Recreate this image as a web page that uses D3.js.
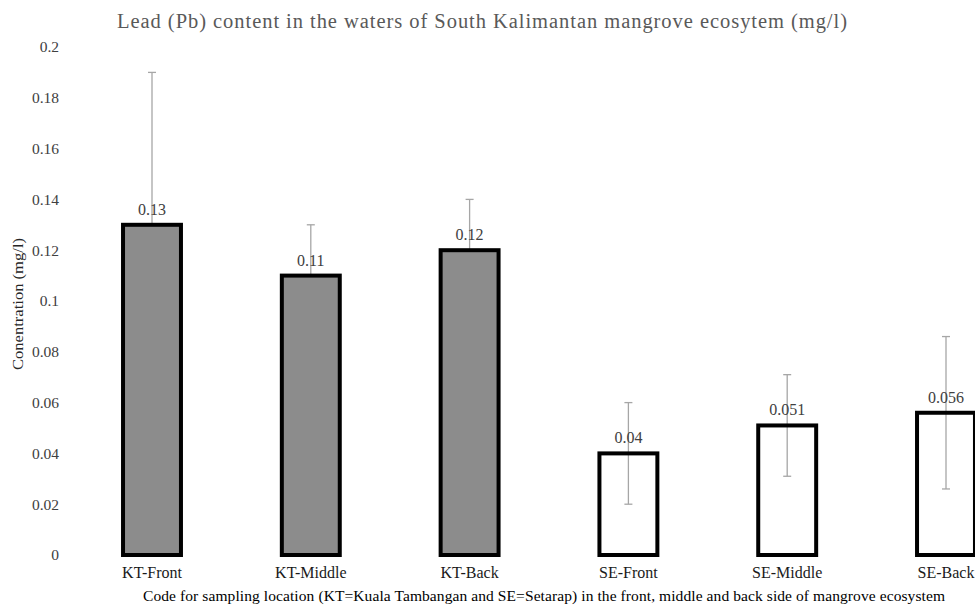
<!DOCTYPE html>
<html>
<head>
<meta charset="utf-8">
<script src="https://cdn.jsdelivr.net/npm/d3@7"></script>
<style>
  html, body { margin: 0; padding: 0; background: #fff; }
  svg text { font-family: 'Liberation Serif', 'Times New Roman', Times, 'DejaVu Serif', serif !important; }
</style>
</head>
<body>
<svg id="chart" width="975" height="607"></svg>
<script>
// Sampling locations and measured lead concentration (mg/l)
const categories = ["KT-Front", "KT-Middle", "KT-Back", "SE-Front", "SE-Middle", "SE-Back"];
const values = [0.13, 0.11, 0.12, 0.04, 0.051, 0.056];
const valueLabels = ["0.13", "0.11", "0.12", "0.04", "0.051", "0.056"];
// Standard deviation shown as error bars
const errors = [0.06, 0.02, 0.02, 0.02, 0.02, 0.03];
// Site group decides the bar fill: KT filled grey, SE unfilled
const groups = ["KT", "KT", "KT", "SE", "SE", "SE"];
const yTicks = [0, 0.02, 0.04, 0.06, 0.08, 0.1, 0.12, 0.14, 0.16, 0.18, 0.2];

const svg = d3.select("#chart");
const data = categories.map((c, i) => ({
  cat: c, v: values[i], label: valueLabels[i], err: errors[i], group: groups[i]
}));

const x = d3.scaleBand()
  .domain(categories)
  .range([72.6, 1025.4])
  .paddingInner(0.61)
  .paddingOuter(0.305);

const y = d3.scaleLinear().domain([0, 0.2]).range([555, 47]);

// Title
svg.append("text")
  .attr("x", 482).attr("y", 28)
  .attr("text-anchor", "middle")
  .attr("font-size", 20.5)
  .attr("textLength", 730)
  .attr("lengthAdjust", "spacing")
  .attr("fill", "#595959")
  .text("Lead (Pb) content in the waters of South Kalimantan mangrove ecosytem (mg/l)");

// Y axis: labels only, no domain line
const yAxis = d3.axisLeft(y)
  .tickValues(yTicks)
  .tickSize(0)
  .tickPadding(0)
  .tickFormat(d => d3.format("")(+d.toFixed(2)));
const yg = svg.append("g").attr("transform", "translate(59,0)").call(yAxis);
yg.select(".domain").remove();
yg.selectAll("text")
  .attr("font-size", 15.5)
  .attr("fill", "#404040");

// Y axis title
svg.append("text")
  .attr("transform", "translate(23,304) rotate(-90)")
  .attr("text-anchor", "middle")
  .attr("font-size", 15)
  .attr("textLength", 132)
  .attr("lengthAdjust", "spacingAndGlyphs")
  .attr("fill", "#262626")
  .text("Conentration (mg/l)");

// Error bars sit behind the bars
const eg = svg.append("g").attr("stroke", "#a6a6a6").attr("stroke-width", 1.3);
data.forEach(d => {
  const cx = x(d.cat) + x.bandwidth() / 2;
  const y1 = y(d.v + d.err), y0 = y(d.v - d.err);
  eg.append("line").attr("x1", cx).attr("x2", cx).attr("y1", y1).attr("y2", y0);
  eg.append("line").attr("x1", cx - 4).attr("x2", cx + 4).attr("y1", y1).attr("y2", y1);
  eg.append("line").attr("x1", cx - 4).attr("x2", cx + 4).attr("y1", y0).attr("y2", y0);
});

// Bars
svg.append("g").selectAll("rect")
  .data(data)
  .join("rect")
  .attr("x", d => x(d.cat) + 2)
  .attr("y", d => y(d.v))
  .attr("width", x.bandwidth() - 4)
  .attr("height", d => y(0) - y(d.v))
  .attr("fill", d => d.group === "KT" ? "#8c8c8c" : "none")
  .attr("stroke", "#000")
  .attr("stroke-width", 4);

// Value labels
svg.append("g").selectAll("text")
  .data(data)
  .join("text")
  .attr("x", d => x(d.cat) + x.bandwidth() / 2)
  .attr("y", d => y(d.v) - 10)
  .attr("text-anchor", "middle")
  .attr("font-size", 16)
  .attr("fill", "#404040")
  .text(d => d.label);

// X axis: category labels only
const xAxis = d3.axisBottom(x).tickSize(0).tickPadding(0);
const xg = svg.append("g").attr("transform", "translate(0,567)").call(xAxis);
xg.select(".domain").remove();
xg.selectAll("text")
  .attr("font-size", 16)
  .attr("fill", "#1a1a1a");

// X axis title
svg.append("text")
  .attr("x", 544).attr("y", 601)
  .attr("text-anchor", "middle")
  .attr("font-size", 15.5)
  .attr("textLength", 802)
  .attr("lengthAdjust", "spacing")
  .attr("fill", "#000")
  .text("Code for sampling location (KT=Kuala Tambangan and SE=Setarap) in the front, middle and back side of mangrove ecosystem");
</script>
</body>
</html>
